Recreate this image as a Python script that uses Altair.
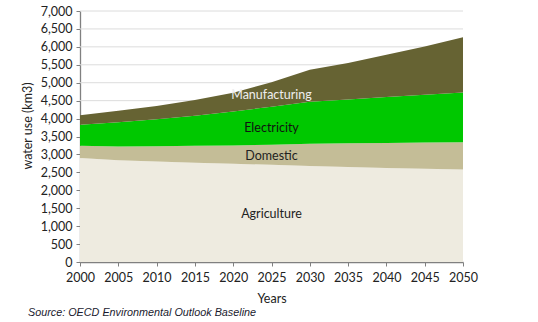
import altair as alt
import pandas as pd

years = [2000, 2005, 2010, 2015, 2020, 2025, 2030, 2035, 2040, 2045, 2050]
agriculture = [2900, 2840, 2800, 2770, 2740, 2710, 2680, 2650, 2620, 2600, 2580]
domestic = [345, 380, 425, 470, 510, 560, 620, 660, 700, 730, 760]
electricity = [585, 680, 755, 840, 950, 1060, 1170, 1220, 1280, 1335, 1390]
manufacturing = [260, 320, 370, 440, 520, 680, 890, 1020, 1180, 1345, 1540]

series = ["Agriculture", "Domestic", "Electricity", "Manufacturing"]
colors = ["#EEEBE0", "#C4BD97", "#00C800", "#666333"]
y_ticks = list(range(0, 7001, 500))

rows = []
for i, (name, vals) in enumerate(zip(series, [agriculture, domestic, electricity, manufacturing])):
    for y, v in zip(years, vals):
        rows.append({"year": y, "value": v, "series": name, "ord": i})
df = pd.DataFrame(rows)

label_df = pd.DataFrame({
    "text": ["Manufacturing", "Electricity", "Domestic", "Agriculture"],
    "year": [2025, 2025, 2025, 2025],
    "value": [4670, 3750, 2970, 1350],
    "col": ["#EEEEEE", "#111111", "#222222", "#222222"],
})

FONT = "Lato"

x_enc = alt.X("year:Q",
              scale=alt.Scale(domain=[2000, 2050], nice=False, zero=False),
              axis=alt.Axis(values=years, format="d", title="Years", grid=False,
                            labelOverlap=False, labelFlush=False,
                            titleY=36, titleBaseline="middle", titleFontWeight="normal"))
y_axis = alt.Axis(values=y_ticks, format=",d", grid=False,
                  labelOverlap=False, labelFlush=False, title=None)
y_scale = alt.Scale(domain=[0, 7000], nice=False)

grid = alt.Chart(pd.DataFrame({"value": y_ticks[1:]})).mark_rule(
    color="#DCDCDC", strokeWidth=1
).encode(
    y=alt.Y("value:Q", scale=y_scale, axis=y_axis),
    x=alt.value(0),
    x2=alt.value(383),
)

areas = alt.Chart(df).mark_area(interpolate="linear").encode(
    x=x_enc,
    y=alt.Y("value:Q", stack="zero", scale=y_scale, axis=y_axis),
    color=alt.Color("series:N", scale=alt.Scale(domain=series, range=colors), legend=None),
    order=alt.Order("ord:Q", sort="ascending"),
)

labels = alt.Chart(label_df).mark_text(font=FONT, fontSize=12.5, align="center", baseline="middle").encode(
    x=x_enc,
    y=alt.Y("value:Q", scale=y_scale, axis=y_axis),
    text="text:N",
    color=alt.Color("col:N", scale=None),
)

ytitle = alt.Chart(pd.DataFrame({"t": ["water use (km3)"]})).mark_text(
    font=FONT, fontSize=12.5, angle=270, align="center", baseline="middle", color="#222222"
).encode(x=alt.value(-52), y=alt.value(115), text="t:N")

source = alt.Chart(pd.DataFrame({"t": ["Source: OECD Environmental Outlook Baseline"]})).mark_text(
    font="Liberation Sans", fontSize=10.8, fontStyle="italic", align="left", baseline="middle", color="#1A1A2E"
).encode(x=alt.value(-52), y=alt.value(302), text="t:N")

chart = alt.layer(grid, areas, labels, ytitle, source).properties(
    width=383, height=251,
    autosize=alt.AutoSizeParams(type="none"),
    padding={"left": 80, "top": 11, "right": 75, "bottom": 60},
).configure_view(stroke=None).configure_axis(
    labelFont=FONT, titleFont=FONT, labelFontSize=12.5, titleFontSize=12.5,
    labelColor="#222222", titleColor="#222222",
    domainColor="#808080", domainWidth=1.3, tickColor="#808080", tickSize=4, labelPadding=4,
).configure_axisX(labelPadding=5)

chart.save("out.html", embed_options={"renderer": "svg", "actions": False})
